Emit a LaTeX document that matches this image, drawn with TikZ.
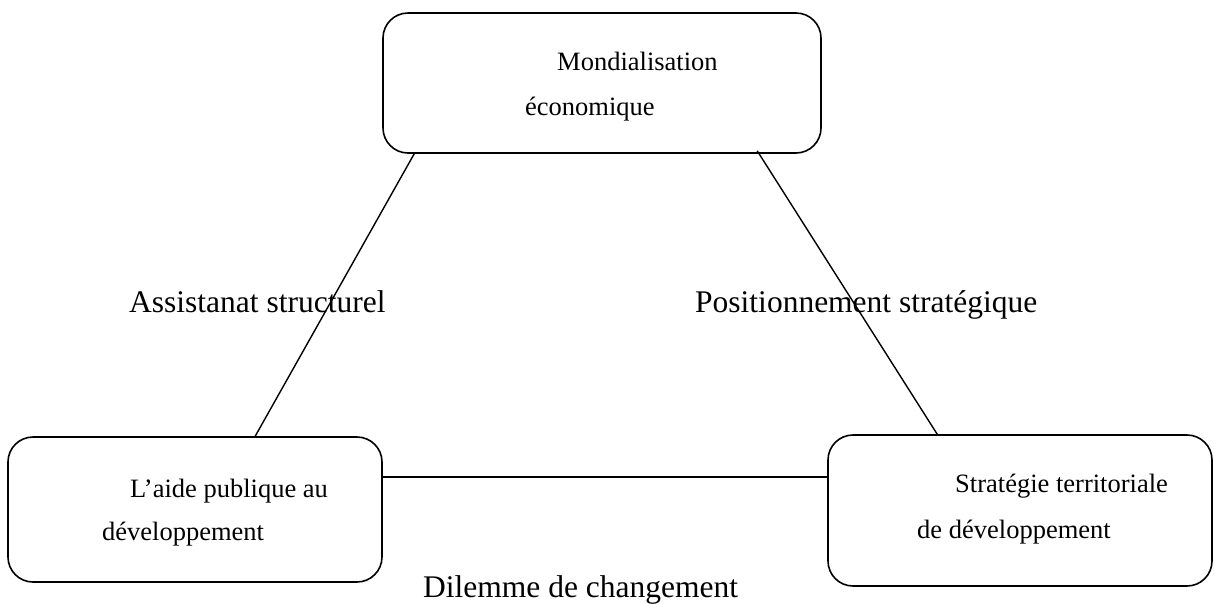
\documentclass[tikz,border=0pt]{standalone}
\usepackage{fontspec}
\setmainfont{Liberation Serif}
\begin{document}
\begin{tikzpicture}[x=1pt,y=-1pt,
  box/.style={draw, line width=1.6pt, rounded corners=25pt, inner sep=0pt},
  boxtxt/.style={inner sep=0pt, anchor=base west, font=\fontsize{26.5}{30}\selectfont},
  lbl/.style={inner sep=0pt, anchor=base west, font=\fontsize{31.5}{36}\selectfont},
  link/.style={line width=1.4pt}]
\useasboundingbox (0,0) rectangle (1214,603);
\node[box, minimum width=438pt, minimum height=140pt] (top) at (602,83) {};
\node[box, minimum width=374pt, minimum height=145pt] (left) at (195,509.5) {};
\node[box, minimum width=384pt, minimum height=151pt] (right) at (1020,510.5) {};
\node[boxtxt] (t1) at (557,70) {Mondialisation};
\node[boxtxt] (t2) at (525,115) {économique};
\node[boxtxt] (l1) at (130,497) {L’aide publique au};
\node[boxtxt] (l2) at (102,540) {développement};
\node[boxtxt] (r1) at (955,492) {Stratégie territoriale};
\node[boxtxt] (r2) at (917,538) {de développement};
\node[lbl] (la) at (129,312) {Assistanat structurel};
\node[lbl] (lb) at (695,312) {Positionnement stratégique};
\node[lbl] (lc) at (423,597) {Dilemme de changement};
\coordinate (a1) at ([xshift=32pt]top.south west);
\coordinate (a2) at ([xshift=248pt]left.north west);
\coordinate (b1) at ([xshift=375pt,yshift=3pt]top.south west);
\coordinate (b2) at ([xshift=110pt]right.north west);
\coordinate (c1) at ([yshift=32.5pt]left.east);
\coordinate (c2) at ([yshift=33.5pt]right.west);
\draw[link] (a1) -- (a2);
\draw[link] (b1) -- (b2);
\draw[link] (c1) -- (c2);
\end{tikzpicture}
\end{document}
